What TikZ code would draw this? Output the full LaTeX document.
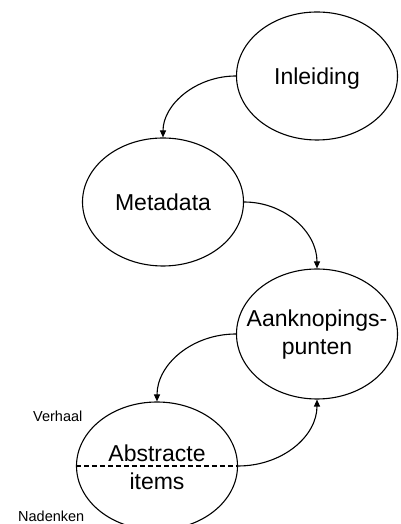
\documentclass[tikz,border=0pt]{standalone}
\usepackage{fontspec}
\setmainfont{Liberation Sans}
\usetikzlibrary{shapes.geometric,arrows.meta}

\tikzset{
  stage/.style={ellipse, draw, line width=1.1pt, inner sep=0pt,
    minimum width=161pt, minimum height=128pt},
  caption/.style={font=\fontsize{23}{28}\selectfont, align=center, inner sep=0pt},
  oneline/.style={text height=17pt, text depth=0pt},
  flow/.style={line width=1.1pt, -{Triangle[length=7pt,width=6pt]}},
  side/.style={font=\fontsize{14.5}{17}\selectfont, anchor=base west, inner sep=0pt}
}

\begin{document}
\begin{tikzpicture}[x=1pt,y=1pt]
  \useasboundingbox (0,0) rectangle (400,524);

  % the four stages
  \node[stage] (inl) at (317,448) {};
  \node[stage] (meta) at (163,322) {};
  \node[stage, minimum height=130pt] (aank) at (317,190) {};
  \node[stage] (abs) at (157,58) {};

  % their captions
  \node[caption, oneline] (inlt) at (inl) {Inleiding};
  \node[caption, oneline] (metat) at (meta) {Metadata};
  \node[caption] (aankt) at ([yshift=-1pt]aank.center) {Aanknopings-\\punten};
  \node[caption] (abst) at ([yshift=-1pt]abs.center) {Abstracte\\items};

  % split of the last stage
  \draw[line width=1.1pt, dash pattern=on 5pt off 3pt] (abs.west) -- (abs.east);

  % side labels
  \node[side] (verh) at (33,102) {Verhaal};
  \node[side] (nad) at (18,2) {Nadenken};

  % connectors
  \draw[flow] (inl.west) .. controls +(-40,0) and +(0,33) .. (meta.north);
  \draw[flow] (meta.east) .. controls +(40,0) and +(0,37) .. (aank.north);
  \draw[flow] (aank.west) .. controls +(-44,0) and +(0,37) .. (abs.north);
  \draw[flow] (abs.east) .. controls +(44,0) and +(0,-37) .. (aank.south);
\end{tikzpicture}
\end{document}
